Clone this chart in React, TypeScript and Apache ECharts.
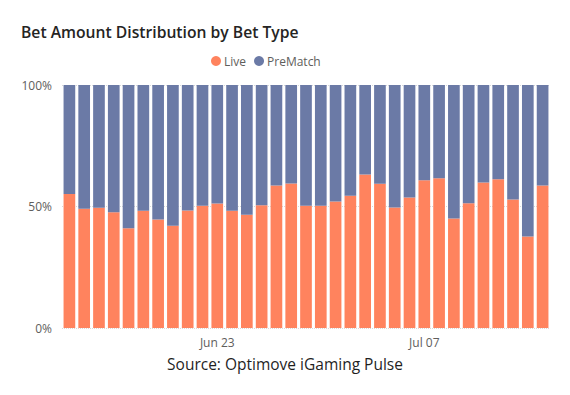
import React, { useEffect, useRef } from "react";
import * as echarts from "echarts";

const dates = [
  "Jun 13", "Jun 14", "Jun 15", "Jun 16", "Jun 17", "Jun 18", "Jun 19", "Jun 20", "Jun 21", "Jun 22",
  "Jun 23", "Jun 24", "Jun 25", "Jun 26", "Jun 27", "Jun 28", "Jun 29", "Jun 30", "Jul 01", "Jul 02",
  "Jul 03", "Jul 04", "Jul 05", "Jul 06", "Jul 07", "Jul 08", "Jul 09", "Jul 10", "Jul 11", "Jul 12",
  "Jul 13", "Jul 14", "Jul 15",
];
const shownLabels = ["Jun 23", "Jul 07"];
const liveShare = [
  55.1, 49.1, 49.5, 47.6, 41.0, 48.3, 44.7, 42.1, 48.4, 50.3,
  51.2, 48.3, 46.6, 50.5, 58.6, 59.5, 50.3, 50.3, 52.1, 54.4,
  63.2, 59.4, 49.6, 53.7, 60.8, 61.6, 45.1, 51.3, 59.9, 61.2,
  52.9, 37.7, 58.6,
];
const preMatchShare = liveShare.map((v) => +(100 - v).toFixed(1));
const yTicks = [0, 50, 100];

export default function App() {
  const ref = useRef<HTMLDivElement>(null);
  useEffect(() => {
    if (!ref.current) return;
    const chart = echarts.init(ref.current, null, { renderer: "svg" });
    const font = "'Open Sans', 'Noto Sans', sans-serif";
    chart.setOption({
      animation: false,
      textStyle: { fontFamily: font },
      title: [
        {
          text: "Bet Amount Distribution by Bet Type",
          left: 16,
          top: 19,
          textStyle: { fontSize: 15.7, fontWeight: 600, color: "#252423", fontFamily: font },
        },
        {
          text: "Source: Optimove iGaming Pulse",
          left: "center",
          top: 350,
          textStyle: { fontSize: 15.5, fontWeight: 400, color: "#1F1F1F", fontFamily: font, lineHeight: 18 },
        },
      ],
      legend: {
        top: 50,
        left: 206,
        icon: "circle",
        itemWidth: 10,
        itemHeight: 10,
        itemGap: 8,
        textStyle: { fontSize: 12, color: "#605E5C", fontFamily: font, padding: [0, 0, 0, -2] },
        data: ["Live", "PreMatch"],
      },
      grid: { left: 62, right: 20, top: 85, bottom: 67 },
      xAxis: {
        type: "category",
        data: dates,
        axisLine: { show: false },
        axisTick: { show: false },
        axisLabel: {
          interval: (i: number, v: string) => shownLabels.includes(v),
          color: "#605E5C",
          fontSize: 12,
          margin: 8,
          fontFamily: font,
        },
      },
      yAxis: {
        type: "value",
        min: yTicks[0],
        max: yTicks[yTicks.length - 1],
        interval: 50,
        axisLabel: {
          formatter: (v: number) => `${v}%`,
          color: "#605E5C",
          fontSize: 12,
          margin: 10,
          fontFamily: font,
        },
        splitLine: { lineStyle: { type: "dotted", color: "#D9D9D9" } },
      },
      series: [
        {
          name: "Live",
          type: "bar",
          stack: "total",
          data: liveShare,
          barCategoryGap: "21%",
          itemStyle: { color: "#FF835E" },
        },
        {
          name: "PreMatch",
          type: "bar",
          stack: "total",
          data: preMatchShare,
          barCategoryGap: "21%",
          itemStyle: { color: "#6B7AA6" },
        },
      ],
    });
    return () => chart.dispose();
  }, []);
  return <div ref={ref} style={{ width: 570, height: 395, position: "absolute", left: 0, top: 0 }} />;
}
